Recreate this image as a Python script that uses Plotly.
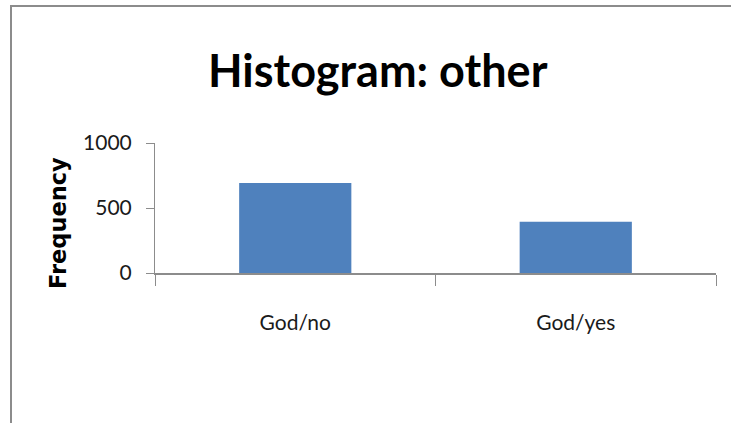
import plotly.graph_objects as go

categories = ["God/no", "God/yes"]
frequency = [692, 395]
y_ticks = [0, 500, 1000]
title_text = "Histogram: other"
y_title = "Frequency"

W, H = 732, 423
L, R, T, B = 155, 16, 143, 150
pw, ph = W - L - R, H - T - B

def px_x(x):
    return (x - L) / pw

def px_y(y):
    return (H - B - y) / ph

axis_col = "#8c8c8c"
font_fam = "Lato, 'Open Sans', sans-serif"

fig = go.Figure(go.Bar(x=categories, y=frequency, width=0.4, marker=dict(color="#4F81BD", line=dict(width=0))))

fig.update_layout(
    width=W, height=H,
    margin=dict(l=L, r=R, t=T, b=B),
    paper_bgcolor="white", plot_bgcolor="white",
    showlegend=False,
    font=dict(family=font_fam, color="#1a1a1a"),
)
fig.update_xaxes(
    showline=True, linecolor=axis_col, linewidth=2,
    ticks="outside", tickson="boundaries", ticklen=11, tickcolor=axis_col, tickwidth=1,
    tickfont=dict(size=21, color="#1a1a1a"), showgrid=False, zeroline=False,
    ticklabelstandoff=30,
)
fig.update_yaxes(
    range=[0, 1000], tickvals=y_ticks, showline=True, linecolor=axis_col, linewidth=1,
    ticks="outside", ticklen=8, tickcolor=axis_col, tickwidth=1,
    tickfont=dict(size=21, color="#1a1a1a"), showgrid=False, zeroline=False,
    ticklabelstandoff=10,
)

fig.add_annotation(text="<b>" + title_text + "</b>", xref="paper", yref="paper",
                   x=px_x(378), y=px_y(70), xanchor="center", yanchor="middle", showarrow=False,
                   font=dict(size=45, family=font_fam, color="black"))
fig.add_annotation(text="<b>" + y_title + "</b>", xref="paper", yref="paper",
                   x=px_x(58), y=px_y(223), xanchor="center", yanchor="middle",
                   showarrow=False, textangle=-90,
                   font=dict(size=22.5, family="DejaVu Sans", color="black"))

# outer frame (top and left edges only), as one open path
fig.add_shape(type="path", xref="paper", yref="paper",
              path=f"M {px_x(11)},{px_y(423)} L {px_x(11)},{px_y(6)} L {px_x(731)},{px_y(6)}",
              line=dict(color=axis_col, width=2))

fig.write_html("out.html", config={"displayModeBar": False})
